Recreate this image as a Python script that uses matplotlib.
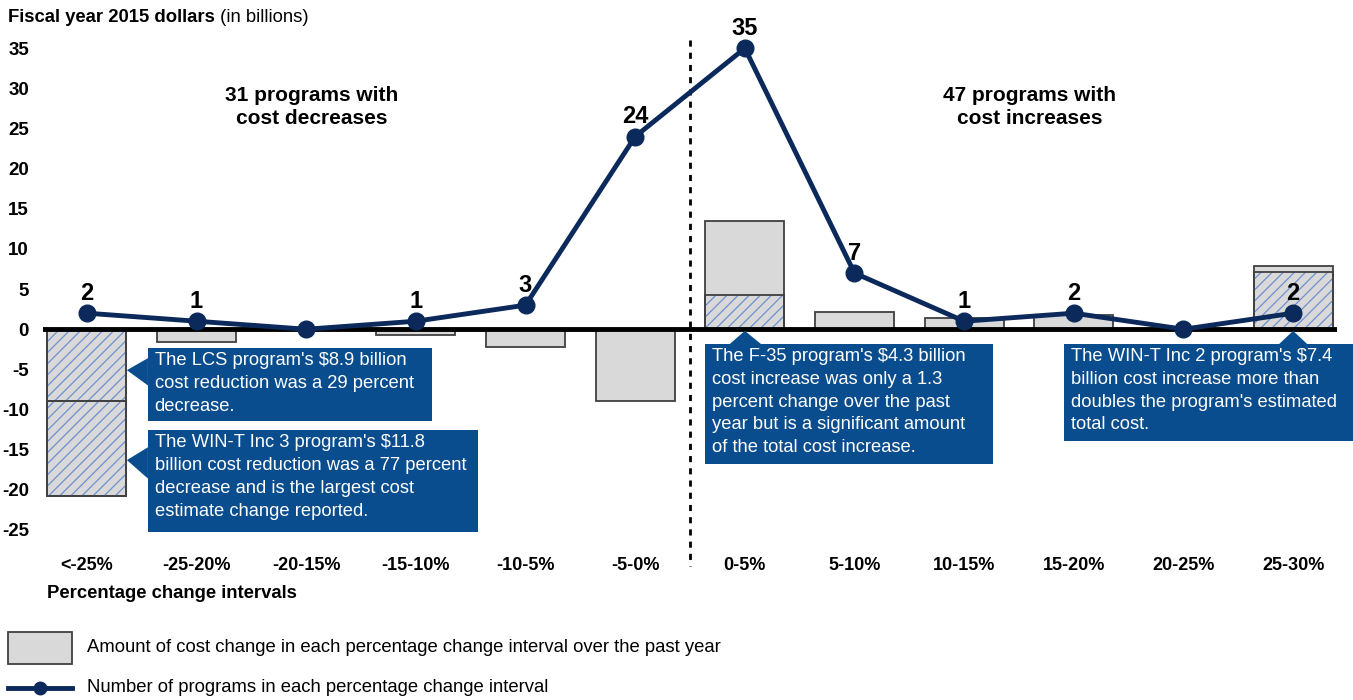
import matplotlib.pyplot as plt
from matplotlib.patches import Rectangle, Polygon
from matplotlib.lines import Line2D

plt.rcParams['font.family'] = ['Liberation Sans', 'DejaVu Sans']
plt.rcParams['hatch.linewidth'] = 0.9
plt.rcParams['axes.unicode_minus'] = False

# data
intervals = ['<-25%', '-25-20%', '-20-15%', '-15-10%', '-10-5%', '-5-0%',
             '0-5%', '5-10%', '10-15%', '15-20%', '20-25%', '25-30%']
cost_change = [-20.8, -1.6, -0.1, -0.7, -2.2, -8.9, 13.5, 2.2, 1.4, 1.8, 0.0, 7.9]
num_programs = [2, 1, 0, 1, 3, 24, 35, 7, 1, 2, 0, 2]

# single programs called out (hatched parts of the bars)
program_idx = [0, 0, 6, 11]
program_cost = [-8.9, -11.9, 4.3, 7.1]

navy = '#0b2a5b'
box_blue = '#0a4d8e'
hatch_blue = '#6f8fcf'
gray = '#d9d9d9'
edge = '#404040'

fig = plt.figure(figsize=(13.53, 7), dpi=100)
ax = fig.add_axes([43 / 1353, 0.22, (1337 - 43) / 1353, 0.954 - 0.22])

x = list(range(len(intervals)))
ax.bar(x, cost_change, width=0.72, color=gray, edgecolor=edge, linewidth=1.3, zorder=2)

# hatched program segments, stacked from zero
bottoms = {}
for i, v in zip(program_idx, program_cost):
    b = bottoms.get(i, 0)
    ax.bar(i, v, bottom=b, width=0.72, facecolor='none', edgecolor=hatch_blue,
           hatch='///', linewidth=0, zorder=3)
    ax.bar(i, v, bottom=b, width=0.72, fill=False, edgecolor=edge,
           linewidth=1.3, zorder=3)
    bottoms[i] = b + v

ax.axhline(0, color='black', linewidth=3.5, zorder=4)

ax.plot(x, num_programs, color=navy, linewidth=3.5, marker='o', markersize=12,
        zorder=6, clip_on=False)
for i, n in enumerate(num_programs):
    if n > 0:
        ax.annotate(str(n), (i, n), xytext=(0, 6), textcoords='offset points',
                    ha='center', va='bottom', fontsize=17, fontweight='bold', zorder=7)

# divider between decreases and increases
ax.plot([5.5, 5.5], [36, -29.5], color='black', linewidth=2,
        linestyle=(0, (2.2, 2.2)), clip_on=False, zorder=1)

ax.text(2.05, 27.7, '31 programs with\ncost decreases', ha='center', va='center',
        fontsize=15, fontweight='bold', linespacing=1.3)
ax.text(8.6, 27.7, '47 programs with\ncost increases', ha='center', va='center',
        fontsize=15, fontweight='bold', linespacing=1.3)

ax.set_xlim(-0.4, 11.4)
ax.set_ylim(-27, 37)
ax.set_yticks(range(-25, 36, 5))
ax.set_xticks(x)
ax.set_xticklabels(intervals)
ax.tick_params(length=0)
ax.tick_params(axis='x', pad=8, labelsize=13)
ax.tick_params(axis='y', pad=10, labelsize=13.5)
for lab in ax.get_xticklabels() + ax.get_yticklabels():
    lab.set_fontweight('bold')
for s in ax.spines.values():
    s.set_visible(False)


# callout boxes: (x0, x1, y0, y1), pointer polygon, text
def callout(x0, x1, y0, y1, pointer, text):
    ax.add_patch(Rectangle((x0, y1), x1 - x0, y0 - y1, facecolor=box_blue,
                           edgecolor='none', zorder=8, clip_on=False))
    ax.add_patch(Polygon(pointer, closed=True, facecolor=box_blue,
                         edgecolor='none', zorder=8, clip_on=False))
    ax.text(x0 + 0.06, y0 - 0.45, text, color='white', fontsize=13.2,
            ha='left', va='top', linespacing=1.45, zorder=9)


callout(0.557, 3.148, -2.37, -11.47,
        [(0.557, -3.6), (0.365, -5.1), (0.557, -7.0)],
        "The LCS program's $8.9 billion\ncost reduction was a 29 percent\ndecrease.")
callout(0.557, 3.567, -12.6, -25.3,
        [(0.557, -14.7), (0.365, -16.3), (0.557, -18.6)],
        "The WIN-T Inc 3 program's $11.8\nbillion cost reduction was a 77 percent\n"
        "decrease and is the largest cost\nestimate change reported.")
callout(5.64, 8.26, -1.87, -16.8,
        [(5.86, -1.87), (6.0, -0.2), (6.15, -1.87)],
        "The F-35 program's $4.3 billion\ncost increase was only a 1.3\n"
        "percent change over the past\nyear but is a significant amount\n"
        "of the total cost increase.")
callout(8.91, 11.56, -1.87, -13.97,
        [(10.87, -1.87), (11.0, -0.2), (11.13, -1.87)],
        "The WIN-T Inc 2 program's $7.4\nbillion cost increase more than\n"
        "doubles the program's estimated\ntotal cost.")

# titles
t1 = fig.text(8 / 1353, 1 - 18 / 700, 'Fiscal year 2015 dollars', fontsize=13.3,
              fontweight='bold', va='center', ha='left')
ax.annotate(' (in billions)', xy=(1, 0.5), xycoords=t1, va='center', ha='left',
            fontsize=13.3, annotation_clip=False)
fig.text(47 / 1353, 1 - 593 / 700, 'Percentage change intervals', fontsize=13.3,
         fontweight='bold', va='center', ha='left')

# legend drawn by hand
fig.add_artist(Rectangle((8 / 1353, 1 - 664 / 700), 64 / 1353, 32 / 700,
                         facecolor=gray, edgecolor=edge, linewidth=1.3,
                         transform=fig.transFigure))
fig.text(87 / 1353, 1 - 648 / 700,
         'Amount of cost change in each percentage change interval over the past year',
         fontsize=13.3, va='center', ha='left')
fig.add_artist(Line2D([8 / 1353, 72 / 1353], [1 - 688 / 700] * 2, color=navy,
                      linewidth=3.5, transform=fig.transFigure))
fig.add_artist(Line2D([40 / 1353], [1 - 688 / 700], color=navy, marker='o',
                      markersize=9, transform=fig.transFigure))
fig.text(87 / 1353, 1 - 688 / 700,
         'Number of programs in each percentage change interval',
         fontsize=13.3, va='center', ha='left')

fig.savefig('out.png', dpi=100)
